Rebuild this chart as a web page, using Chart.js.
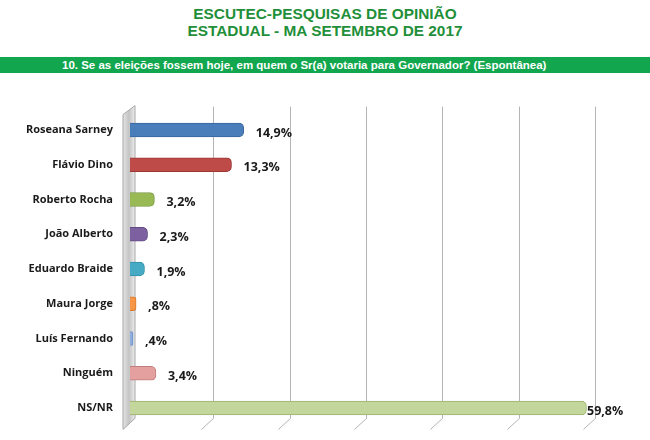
<!DOCTYPE html>
<html>
<head>
<meta charset="utf-8">
<script src="https://cdn.jsdelivr.net/npm/chart.js@4.4.1/dist/chart.umd.min.js"></script>
<style>
body{margin:0;background:#fff;width:650px;height:440px;overflow:hidden;position:relative;font-family:"Liberation Sans",Arial,sans-serif}
.t{position:absolute;left:0;width:650px;text-align:center;color:#1f8f3a;font-weight:bold;font-size:15.4px;line-height:18px}
#band{position:absolute;left:0;top:57px;width:650px;height:16px;background:#12a64e}
#band span{position:absolute;left:62px;top:0;line-height:16px;color:#fff;font-weight:bold;font-size:11.5px;white-space:nowrap}
#wrap{position:absolute;left:0;top:97px;width:650px;height:344px}
canvas{display:block}
</style>
</head>
<body>
<div class="t" style="top:5px">ESCUTEC-PESQUISAS DE OPINIÃO</div>
<div class="t" style="top:22px">ESTADUAL - MA SETEMBRO DE 2017</div>
<div id="band"><span>10. Se as eleições fossem hoje, em quem o Sr(a) votaria para Governador? (Espontânea)</span></div>
<div id="wrap"><canvas id="c" width="650" height="344"></canvas></div>
<script>
// candidates and spontaneous vote share (%)
const categories=["Roseana Sarney","Flávio Dino","Roberto Rocha","João Alberto","Eduardo Braide","Maura Jorge","Luís Fernando","Ninguém","NS/NR"]
const values=[14.9,13.3,3.2,2.3,1.9,0.8,0.4,3.4,59.8]
const valueLabels=["14,9%","13,3%","3,2%","2,3%","1,9%",",8%",",4%","3,4%","59,8%"]
const gridValues=[10,20,30,40,50,60]

const fills=["#4a7ebb","#be4b48","#98b954","#7d60a0","#46aac5","#f79646","#8eaee0","#e3a09e","#c3d69b"]
const borders=["#3a669c","#9c3836","#7a9940","#624a84","#3590a8","#d57a2e","#6f8fc2","#c07f7d","#9bb26b"]

const labelFont="'Open Sans', 'Noto Sans', sans-serif"

// back wall + grid lines, drawn with a small 3D shift
const wallPlugin={
id:"wall",
beforeDatasetsDraw(chart){
const ctx=chart.ctx
const a=chart.chartArea
const x=chart.scales.x
const x0=x.getPixelForValue(0)
ctx.save()
// left side wall
let g=ctx.createLinearGradient(x0-7,0,x0+5,0)
g.addColorStop(0,"#e4e4e4")
g.addColorStop(0.5,"#c4c4c4")
g.addColorStop(1,"#ededed")
ctx.fillStyle=g
ctx.strokeStyle="#a8a8a8"
ctx.lineWidth=1
ctx.beginPath()
ctx.moveTo(x0-7,a.top+2)
ctx.lineTo(x0+5,a.top-7)
ctx.lineTo(x0+5,a.bottom-7)
ctx.lineTo(x0-7,a.bottom+4)
ctx.closePath()
ctx.fill()
ctx.stroke()
// grid lines on the back plane
ctx.strokeStyle="#b4b4b4"
gridValues.forEach(v=>{
const gx=Math.round(x.getPixelForValue(v))+7.5
ctx.beginPath()
ctx.moveTo(gx,a.top-6)
ctx.lineTo(gx,a.bottom-7)
ctx.lineTo(gx-12,a.bottom+4)
ctx.stroke()
})
ctx.restore()
}
}

const valuePlugin={
id:"values",
afterDatasetsDraw(chart){
const ctx=chart.ctx
const meta=chart.getDatasetMeta(0)
ctx.save()
ctx.font="bold 12.5px "+labelFont
ctx.fillStyle="#1a1a1a"
ctx.textBaseline="middle"
ctx.textAlign="left"
meta.data.forEach((bar,i)=>{
let tx=Math.min(bar.x+12,chart.chartArea.right-1)
ctx.fillText(valueLabels[i],tx,bar.y+3)
})
ctx.restore()
}
}

const ctx=document.getElementById("c").getContext("2d")

const chart=new Chart(ctx,{
type:"bar",
data:{
labels:categories,
datasets:[{
data:values,
backgroundColor:fills,
borderColor:borders,
borderWidth:1,
borderRadius:5,
borderSkipped:"start",
barThickness:14
}]
},
options:{
indexAxis:"y",
responsive:false,
animation:false,
layout:{padding:{top:0,bottom:0,right:62,left:0}},
plugins:{legend:{display:false},tooltip:{enabled:false}},
scales:{
x:{
min:0,max:60,
display:false,
grid:{display:false}
},
y:{
grid:{display:false},
border:{display:false},
afterFit(scale){scale.width=130},
ticks:{
padding:9,
color:"#1a1a1a",
font:{family:labelFont,size:11,weight:"bold"}
}
}
}
},
plugins:[wallPlugin,valuePlugin]
})
</script>
</body>
</html>
